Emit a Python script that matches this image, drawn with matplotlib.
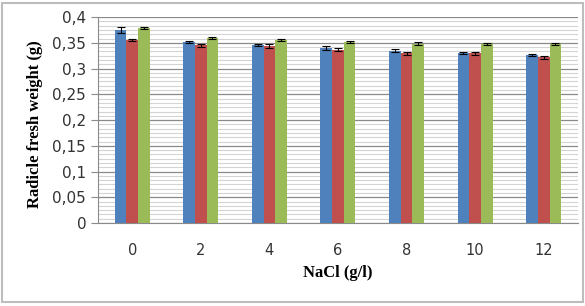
import numpy as np
import matplotlib.pyplot as plt
from matplotlib.ticker import MultipleLocator, FuncFormatter
from matplotlib.patches import Rectangle

# NaCl concentrations (g/l)
nacl = ['0', '2', '4', '6', '8', '10', '12']

# radicle fresh weight (g), three series
s1 = [0.375, 0.351, 0.346, 0.340, 0.335, 0.331, 0.326]
s2 = [0.356, 0.345, 0.344, 0.337, 0.330, 0.330, 0.322]
s3 = [0.379, 0.359, 0.355, 0.351, 0.348, 0.348, 0.348]

e1 = [0.005, 0.002, 0.002, 0.003, 0.003, 0.002, 0.002]
e2 = [0.002, 0.003, 0.003, 0.003, 0.003, 0.003, 0.003]
e3 = [0.002, 0.002, 0.002, 0.002, 0.003, 0.002, 0.002]

colors = ['#4F81BD', '#C0504D', '#9BBB59']

fig = plt.figure(figsize=(5.85, 3.06), dpi=100)
ax = fig.add_axes([0.1675, 0.271, 0.8205, 0.673])

x = np.arange(len(nacl))
w = 0.17
for i, (vals, errs) in enumerate(zip([s1, s2, s3], [e1, e2, e3])):
    ax.bar(x + (i - 1) * w, vals, w, color=colors[i], zorder=3,
           yerr=errs, error_kw=dict(ecolor='black', elinewidth=0.8,
                                    capsize=3, capthick=0.8))

ax.set_xlim(-0.5, len(nacl) - 0.5)
ax.set_ylim(0, 0.4)
ax.yaxis.set_major_locator(MultipleLocator(0.05))
ax.yaxis.set_minor_locator(MultipleLocator(0.05 / 6))
ax.yaxis.set_major_formatter(FuncFormatter(lambda v, p: ('%g' % round(v, 2)).replace('.', ',')))

ax.grid(axis='y', which='major', color='#8a8a8a', linewidth=0.9, zorder=0)
ax.grid(axis='y', which='minor', color='#d4d4d4', linewidth=0.8, zorder=0)

for s in ['top', 'right']:
    ax.spines[s].set_visible(False)
ax.spines['left'].set_color('#8a8a8a')
ax.spines['bottom'].set_color('#8a8a8a')

ax.set_xticks(x)
ax.set_xticklabels(nacl)
ax.tick_params(axis='x', length=0, pad=14, labelsize=10.5, colors='#333333')
ax.tick_params(axis='y', which='major', length=5, color='#8a8a8a', labelsize=11, colors='#333333')
ax.tick_params(axis='y', which='minor', length=0)

fig.text(0.06, 0.595, 'Radicle fresh weight (g)', rotation=90, ha='center', va='center',
         family='Liberation Serif', fontweight='bold', fontsize=12)
fig.text(0.578, 0.108, 'NaCl (g/l)', ha='center', va='center',
         family='Liberation Serif', fontweight='bold', fontsize=12)

fig.patches.append(Rectangle((0.004, 0.012), 0.992, 0.978, transform=fig.transFigure,
                             fill=False, edgecolor='#bdbdbd', linewidth=1.5))

fig.savefig('out.png', dpi=100)
